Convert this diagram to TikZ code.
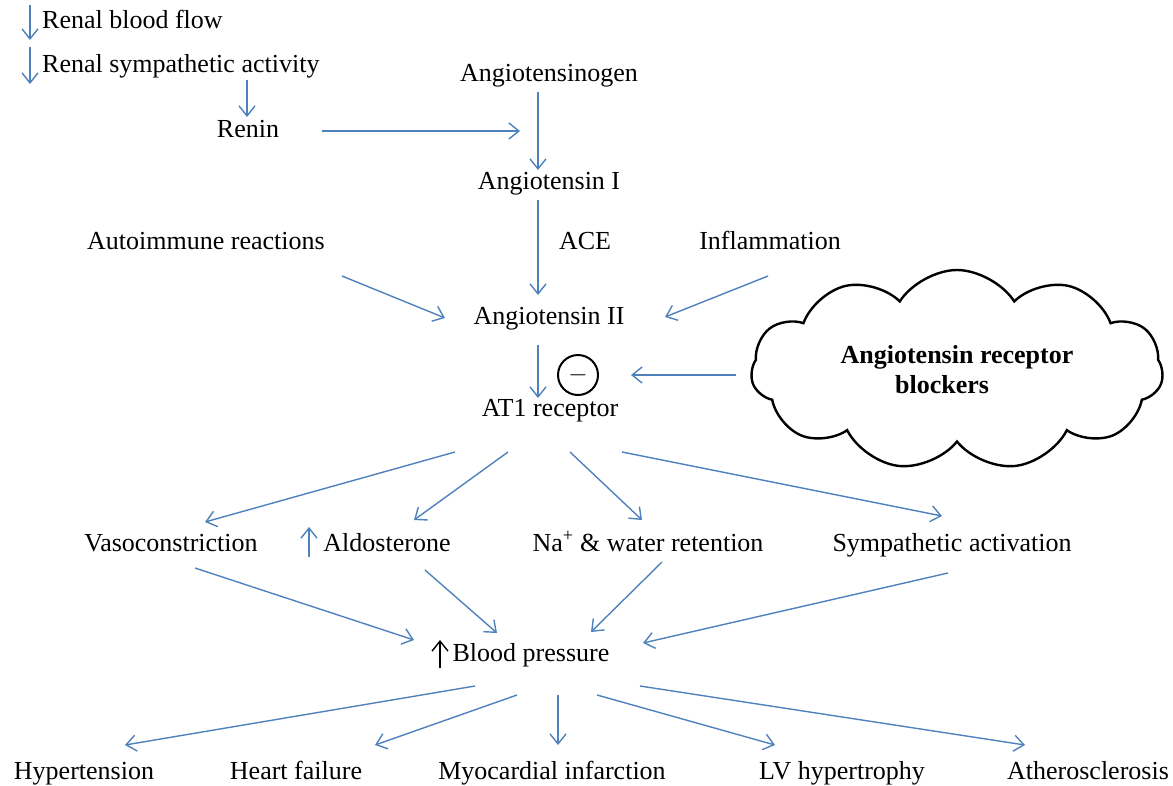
\documentclass[tikz,border=0pt]{standalone}
\usepackage{fontspec}
\setmainfont{Liberation Serif}
\usepackage{tikz}
\definecolor{arrblue}{RGB}{79,129,189}
\usetikzlibrary{shapes.symbols}
\usetikzlibrary{arrows.meta}
\tikzset{
  txtnode/.style = {inner sep=0pt, align=center, text=black,
    text height=18pt, text depth=6pt,
    font=\fontsize{26}{30}\selectfont},% plain label
  flow/.style = {-{Straight Barb[length=10pt,width=16pt]}, arrblue, line width=1.4pt},% blue arrow
  upblack/.style = {-{Straight Barb[length=10pt,width=16pt]}, black, line width=1.4pt},
  ras_cloud/.style = {cloud, draw=black, line width=2.4pt, cloud puffs=11,
    cloud puff arc=115, aspect=2.2, minimum width=412pt, minimum height=190pt,
    font=\fontsize{26}{30}\selectfont\bfseries, align=center},
  inhib/.style = {circle, draw=black, line width=2pt, minimum size=40pt,
    inner sep=0pt, font=\fontsize{26}{30}\selectfont},
}

\begin{document}
\begin{tikzpicture}[x=1pt,y=-1pt]
  \useasboundingbox (0,0) rectangle (1173,785);

  % upstream triggers
  \node[txtnode, anchor=west] (rbf) at (42,22) {Renal blood flow};
  \node[txtnode, anchor=west] (rsa) at (42,66) {Renal sympathetic activity};
  \node[txtnode] (renin) at (248,131) {Renin};
  \node[txtnode] (agen) at (549,75) {Angiotensinogen};
  \node[txtnode] (ang1) at (549,183) {Angiotensin I};
  \node[txtnode] (ace) at (585,243) {ACE};
  \node[txtnode] (auto) at (206,243) {Autoimmune reactions};
  \node[txtnode] (infl) at (770,243) {Inflammation};
  \node[txtnode] (ang2) at (549,318) {Angiotensin II};
  \node[txtnode] (at1) at (550,410) {AT1 receptor};
  \node[inhib] (minus) at (578,375) {$-$};
  \node[ras_cloud] (arb) at (957,370) {Angiotensin receptor\\blockers\hspace*{30pt}};

  % effects
  \node[txtnode] (vaso) at (171,545) {Vasoconstriction};
  \node[txtnode] (aldo) at (387,545) {Aldosterone};
  \node[txtnode] (na) at (648,545) {Na\textsuperscript{+} \& water retention};
  \node[txtnode] (symp) at (952,545) {Sympathetic activation};
  \node[txtnode] (bp) at (531,655) {Blood pressure};

  % outcomes
  \node[txtnode] (hyp) at (84,773) {Hypertension};
  \node[txtnode] (hf) at (296,773) {Heart failure};
  \node[txtnode] (mi) at (552,773) {Myocardial infarction};
  \node[txtnode] (lvh) at (842,773) {LV hypertrophy};
  \node[txtnode] (ath) at (1088,773) {Atherosclerosis};

  % small up/down markers
  \draw[flow] ([shift={(-12,-17)}]rbf.west) -- ([shift={(-12,18)}]rbf.west);
  \draw[flow] ([shift={(-12,-19)}]rsa.west) -- ([shift={(-12,18)}]rsa.west);
  \draw[flow] ([shift={(-78,12)}]aldo.center) -- ([shift={(-78,-18)}]aldo.center);
  \draw[upblack] ([shift={(-91,13)}]bp.center) -- ([shift={(-91,-15)}]bp.center);

  % cascade
  \draw[flow] ([shift={(205,14)}]rsa.west) -- ([shift={(-1,-14)}]renin.center);
  \draw[flow] ([shift={(74,0)}]renin.center) -- ([shift={(-29,56)}]agen.center);
  \draw[flow] ([shift={(-11,17)}]agen.center) -- ([shift={(-11,-13)}]ang1.center);
  \draw[flow] ([shift={(-11,17)}]ang1.center) -- ([shift={(-11,-23)}]ang2.center);
  \draw[flow] ([shift={(136,33)}]auto.center) -- ([shift={(-104,0)}]ang2.center);
  \draw[flow] ([shift={(-2,33)}]infl.center) -- ([shift={(116,-1)}]ang2.center);
  \draw[flow] ([shift={(-11,27)}]ang2.center) -- ([shift={(-12,-12)}]at1.center);
  \draw[flow] ([shift={(-221,5)}]arb.center) -- ([shift={(32,0)}]minus.east);

  % AT1 receptor effects
  \draw[flow] ([shift={(-95,42)}]at1.center) -- ([shift={(34,-23)}]vaso.center);
  \draw[flow] ([shift={(-42,42)}]at1.center) -- ([shift={(27,-25)}]aldo.center);
  \draw[flow] ([shift={(20,42)}]at1.center) -- ([shift={(-6,-25)}]na.center);
  \draw[flow] ([shift={(72,42)}]at1.center) -- ([shift={(-10,-29)}]symp.center);

  % into blood pressure
  \draw[flow] ([shift={(24,23)}]vaso.center) -- ([shift={(-117,-15)}]bp.center);
  \draw[flow] ([shift={(38,25)}]aldo.center) -- ([shift={(-34,-22)}]bp.center);
  \draw[flow] ([shift={(14,17)}]na.center) -- ([shift={(60,-23)}]bp.center);
  \draw[flow] ([shift={(-4,28)}]symp.center) -- ([shift={(112,-12)}]bp.center);

  % outcomes
  \draw[flow] ([shift={(-56,31)}]bp.center) -- ([shift={(41,-28)}]hyp.center);
  \draw[flow] ([shift={(-14,40)}]bp.center) -- ([shift={(79,-28)}]hf.center);
  \draw[flow] ([shift={(27,40)}]bp.center) -- ([shift={(6,-28)}]mi.center);
  \draw[flow] ([shift={(66,40)}]bp.center) -- ([shift={(-67,-28)}]lvh.center);
  \draw[flow] ([shift={(109,31)}]bp.center) -- ([shift={(-63,-28)}]ath.center);
\end{tikzpicture}
\end{document}
